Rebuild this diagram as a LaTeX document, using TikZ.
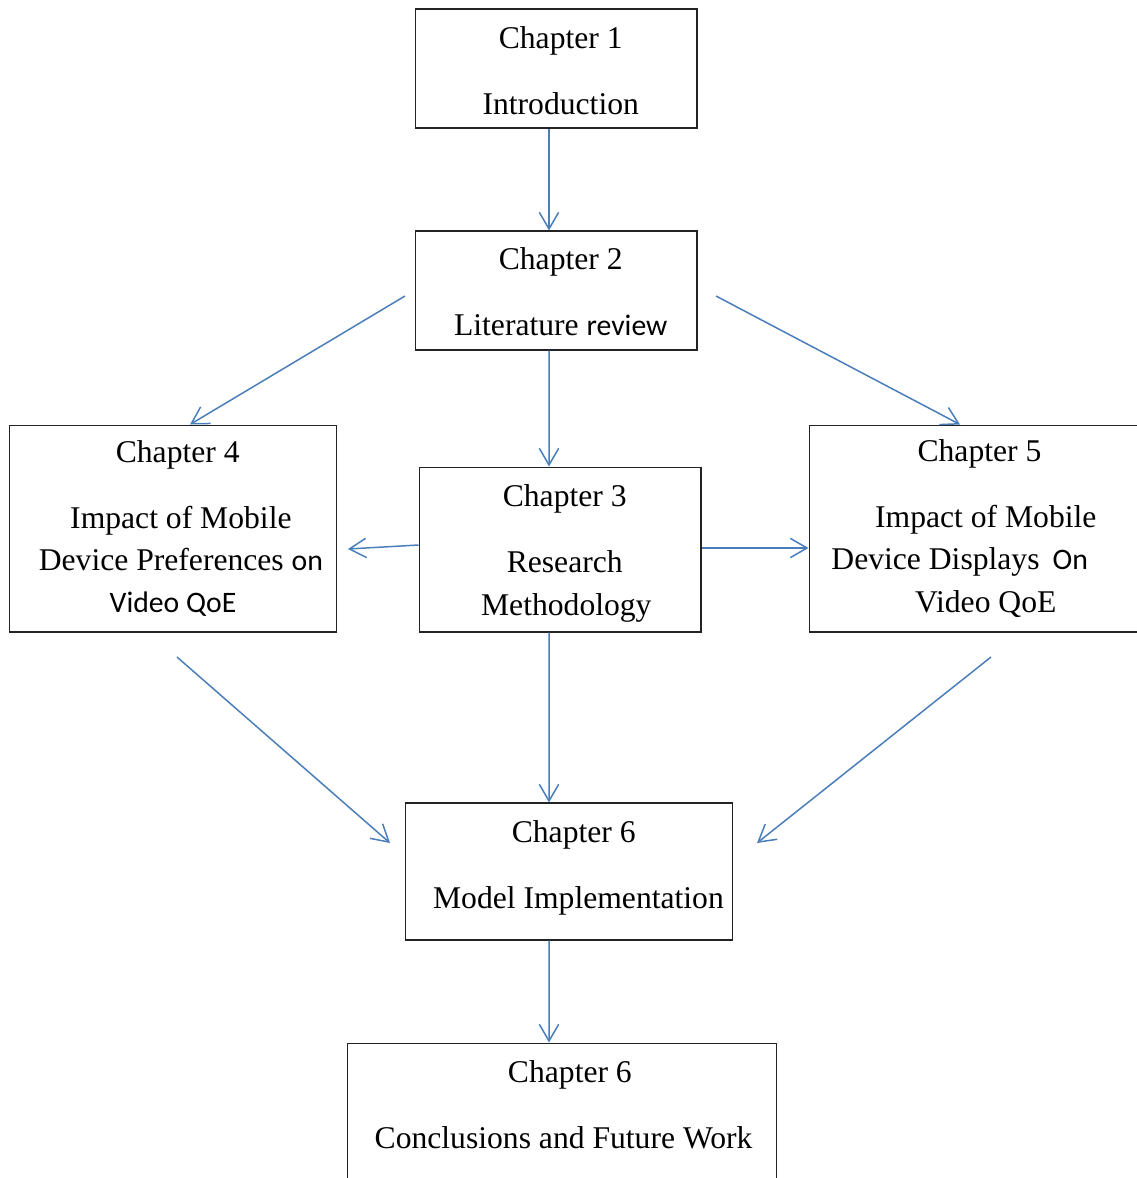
\documentclass[tikz,border=0pt]{standalone}
\usepackage{fontspec}
\setmainfont{Liberation Serif}
\newfontfamily\calfont[Scale=0.94]{Carlito}
\usepackage{tikz}
\usetikzlibrary{arrows.meta,positioning}
\definecolor{flowblue}{RGB}{74,126,187}
\definecolor{boxline}{RGB}{35,35,35}

\begin{document}
\begin{tikzpicture}[x=0.02cm, y=-0.02cm,
  chapbox/.style={draw=boxline, line width=0.6pt, fill=white, align=center, inner sep=0pt,
    font=\fontsize{18}{24}\selectfont},
  flow/.style={draw=flowblue, line width=0.85pt,
    -{Straight Barb[length=9.5pt,width=11pt,line width=0.85pt]}}]
  \useasboundingbox (0,0) rectangle (1137,1178);

  % chapter boxes
  \node[chapbox, minimum width=5.64cm, minimum height=2.38cm] (ch1) at (556,68.5)
    {\rule{0pt}{15pt}\hspace*{0.3em}Chapter 1\\[13.6pt]\hspace*{0.3em}Introduction};
  \node[chapbox, minimum width=5.64cm, minimum height=2.38cm] (ch2) at (556,290.5)
    {\rule{0pt}{14pt}\hspace*{0.3em}Chapter 2\\[13.6pt]\hspace*{0.3em}Literature {\calfont review}};
  \node[chapbox, minimum width=5.64cm, minimum height=3.3cm] (ch3) at (560,549.5)
    {\rule{0pt}{17pt}\hspace*{0.3em}Chapter 3\\[13.6pt]\hspace*{0.3em}Research\\\hspace*{0.4em}Methodology};
  \node[chapbox, minimum width=6.56cm, minimum height=4.14cm] (ch4) at (173,528.5)
    {\hspace*{0.3em}Chapter 4\\[13.6pt]\hspace*{0.5em}Impact of Mobile\\
     \hspace*{0.5em}Device Preferences {\calfont on}\\{\calfont Video QoE}};
  \node[chapbox, minimum width=6.82cm, minimum height=4.14cm] (ch5) at (979.5,528.5)
    {Chapter 5\\[13.6pt]\hspace*{0.4em}Impact of Mobile\\
     \hspace*{-1.25em}Device Displays \,{\calfont On}\\\hspace*{0.4em}Video QoE};
  \node[chapbox, minimum width=6.56cm, minimum height=2.74cm] (ch6) at (569,871.5)
    {\hspace*{0.3em}Chapter 6\\[13.6pt]\hspace*{0.6em}Model Implementation\rule[-8pt]{0pt}{0pt}};
  \node[chapbox, minimum width=8.6cm, minimum height=2.74cm] (ch7) at (562,1111.5)
    {\hspace*{0.5em}Chapter 6\\[13.6pt]\hspace*{0.1em}Conclusions and Future Work\rule[-8pt]{0pt}{0pt}};

  % free ends of the connectors
  \coordinate (c2w) at (405,296);
  \coordinate (c2e) at (716,296);
  \coordinate (c4in) at (348,549);
  \coordinate (c4out) at (177,657);
  \coordinate (c5out) at (991,657);
  \coordinate (c6w) at (390,843);
  \coordinate (c6e) at (757,843);

  % connectors
  \draw[flow] ([xshift=-0.14cm]ch1.south) -- ([xshift=-0.14cm]ch2.north);
  \draw[flow] (c2w) -- ([xshift=0.34cm]ch4.north);
  \draw[flow] (c2e) -- ([xshift=-0.39cm]ch5.north);
  \draw[flow] ([xshift=-0.14cm]ch2.south) -- ([xshift=-0.22cm]ch3.north);
  \draw[flow] ([yshift=0.09cm]ch3.west) -- (c4in);
  \draw[flow] ([yshift=0.03cm]ch3.east) -- ([yshift=0.03cm]ch3.east -| ch5.west);
  \draw[flow] ([xshift=-0.22cm]ch3.south) -- ([xshift=-0.4cm]ch6.north);
  \draw[flow] (c4out) -- (c6w);
  \draw[flow] (c5out) -- (c6e);
  \draw[flow] ([xshift=-0.4cm]ch6.south) -- ([xshift=-0.26cm]ch7.north);
\end{tikzpicture}
\end{document}
